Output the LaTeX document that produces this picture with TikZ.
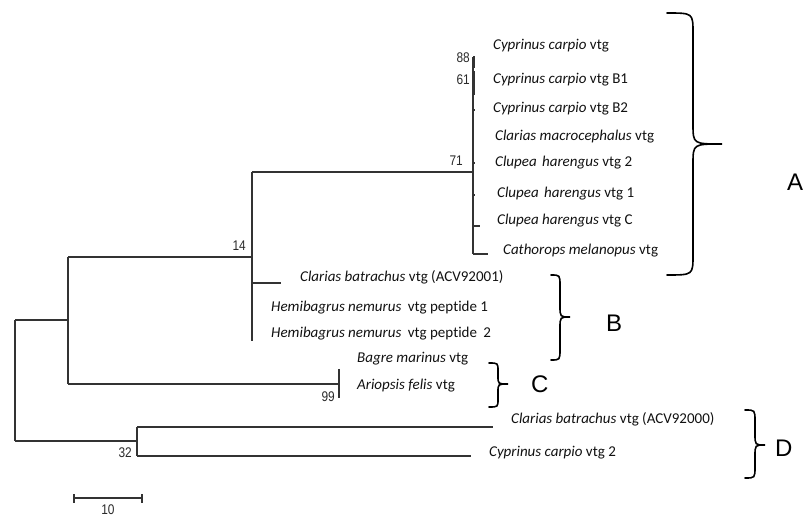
\documentclass[tikz,border=0pt]{standalone}
\usepackage{fontspec}
\setmainfont{Carlito}[Ligatures=NoCommon]
\newfontfamily\arialf{Liberation Sans}
\newfontfamily\numf{Liberation Sans}[FakeStretch=0.85]
\definecolor{treegray}{HTML}{333333}
\definecolor{numgray}{HTML}{2A2A2A}
\definecolor{txt}{HTML}{111111}
\newcommand{\mybrace}[7]{% xa xv xt yt ym yb r
  \draw[bracestyle] (#1,#4) .. controls (#2,#4) .. (#2,#4+#7) -- (#2,#5-#7)
    .. controls (#2,#5) .. (#3,#5) .. controls (#2,#5) .. (#2,#5+#7)
    -- (#2,#6-#7) .. controls (#2,#6) .. (#1,#6);}
\begin{document}
\begin{tikzpicture}[x=1pt,y=-1pt,
  tree/.style={line width=1.2pt, draw=treegray},
  sp/.style={anchor=west, inner sep=0pt, text=txt, font=\fontsize{15}{18}\selectfont},
  bs/.style={anchor=east, inner sep=0pt, text=numgray, font=\numf\fontsize{14}{16}\selectfont},
  big/.style={anchor=west, inner sep=0pt, text=black, font=\arialf\fontsize{24}{28}\selectfont},
  bracestyle/.style={line width=1.6pt, line cap=round, draw=black}]
\useasboundingbox (0,0) rectangle (803,518);
% tree coordinates
\coordinate (rt) at (15,320); \coordinate (rb) at (15,441);
\coordinate (n1) at (68,320); \coordinate (n1t) at (68,257); \coordinate (n1b) at (68,384);
\coordinate (n2) at (252,257); \coordinate (n2t) at (252,172); \coordinate (n2b) at (252,341);
\coordinate (cb1) at (252,283); \coordinate (cb1e) at (281,283);
\coordinate (nA) at (473,172); \coordinate (nAt) at (473,57); \coordinate (nAb) at (473,254);
\coordinate (lvC) at (473,226); \coordinate (lvCe) at (480,226);
\coordinate (lCat) at (473,254); \coordinate (lCate) at (488,254);
\coordinate (nC) at (339,384); \coordinate (nCt) at (339,369); \coordinate (nCb) at (339,398);
\coordinate (nD) at (137,441); \coordinate (nDt) at (137,427); \coordinate (nDb) at (137,456);
\coordinate (lD1) at (493,427); \coordinate (lD2) at (471,456);
% branches
\draw[tree] (rt) -- (rb);
\draw[tree] (rt) -- (n1);
\draw[tree] (n1t) -- (n1b);
\draw[tree] (n1t) -- (n2);
\draw[tree] (n2t) -- (n2b);
\draw[tree] (cb1) -- (cb1e);
\draw[tree] (n2t) -- (nA);
\draw[tree] (nAt) -- (nAb);
\draw[tree] (lvC) -- (lvCe);
\draw[tree] (lCat) -- (lCate);
\draw[tree] (473,57) -- (475,57);
\draw[line width=2pt, draw=treegray] (473.5,58) -- (473.5,68);
\draw[line width=2pt, draw=treegray] (473.5,71) -- (473.5,95);
\draw[tree] (473,110) -- (475,110);
\draw[tree] (473,163) -- (475,163);
\draw[tree] (473,195) -- (475,195);
\draw[tree] (n1b) -- (nC);
\draw[tree] (nCt) -- (nCb);
\draw[tree] (rb) -- (nD);
\draw[tree] (nDt) -- (nDb);
\draw[tree] (nDt) -- (lD1);
\draw[tree] (nDb) -- (lD2);
% bootstrap values
\node[bs] (b88) at (470,58) {88};
\node[bs] (b61) at (470,80) {61};
\node[bs] (b71) at (463,161) {71};
\node[bs] (b14) at (246,246) {14};
\node[bs] (b99) at (335,397) {99};
\node[bs] (b32) at (132,453) {32};
% taxa
\node[sp] (t1) at (493,46) {\textit{Cyprinus carpio} vtg};
\node[sp] (t2) at (493,80) {\textit{Cyprinus carpio} vtg B1};
\node[sp] (t3) at (493,109) {\textit{Cyprinus carpio} vtg B2};
\node[sp] (t4) at (495,137) {\textit{Clarias macrocephalus} vtg};
\node[sp] (t5) at (495,163) {\textit{Clupea\hspace{2pt} harengus} vtg 2};
\node[sp] (t6) at (497,194) {\textit{Clupea\hspace{2pt} harengus} vtg 1};
\node[sp] (t7) at (497,221) {\textit{Clupea harengus} vtg C};
\node[sp] (t8) at (503,251) {\textit{Cathorops melanopus} vtg};
\node[sp] (t9) at (300,277) {\textit{Clarias batrachus} vtg (ACV92001)};
\node[sp] (t10) at (271,308) {\textit{Hemibagrus nemurus}\hspace{3pt} vtg peptide 1};
\node[sp] (t11) at (271,334) {\textit{Hemibagrus nemurus}\hspace{3pt} vtg peptide\hspace{3pt} 2};
\node[sp] (t12) at (357,359) {\textit{Bagre marinus} vtg};
\node[sp] (t13) at (357,386) {\textit{Ariopsis felis} vtg};
\node[sp] (t14) at (511,419) {\textit{Clarias batrachus} vtg (ACV92000)};
\node[sp] (t15) at (489,453) {\textit{Cyprinus carpio} vtg 2};
% braces
\mybrace{667}{693}{722}{13}{144}{275}{20}
\mybrace{551}{560}{570}{275}{317}{360}{11}
\mybrace{489}{498}{508}{363}{384}{407}{8}
\mybrace{745}{755}{765}{410}{445}{478}{11}
% group letters
\node[big] (gA) at (787,182) {A};
\node[big] (gB) at (606,323) {B};
\node[big] (gC) at (531,384) {C};
\node[big] (gD) at (775,448) {D};
% scale bar
\coordinate (s1) at (74,498); \coordinate (s2) at (142,498);
\draw[tree] (s1) -- (s2);
\draw[tree] (74,494) -- (74,503);
\draw[tree] (142,494) -- (142,503);
\node[bs, anchor=center] (sc) at (108,510) {10};
\end{tikzpicture}
\end{document}
